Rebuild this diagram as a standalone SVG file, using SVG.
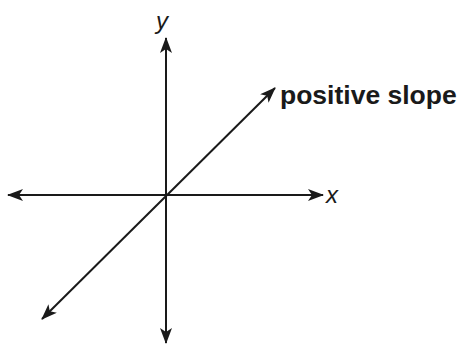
<svg xmlns="http://www.w3.org/2000/svg" width="459" height="349" viewBox="0 0 459 349">
<defs>
<marker id="ah" viewBox="0 0 16 12" refX="15" refY="6" markerWidth="16" markerHeight="12" markerUnits="userSpaceOnUse" orient="auto-start-reverse">
<path d="M0,0 L16,6 L0,12 L4,6 Z" fill="#1a1a1a"/>
</marker>
<style>
.ax{stroke:#1a1a1a;stroke-width:2;fill:none;marker-start:url(#ah);marker-end:url(#ah)}
.lbl{font-family:"Liberation Sans",Arial,sans-serif;fill:#1a1a1a}
</style>
</defs>
<rect width="459" height="349" fill="#fff"/>
<g id="connectors">
<line class="ax" x1="8" y1="195" x2="323" y2="195"/>
<line class="ax" x1="166" y1="343" x2="166" y2="38"/>
<line class="ax" x1="42" y1="319" x2="275" y2="88"/>
</g>
<g id="label-y"><text class="lbl" x="156" y="29" font-size="24" font-style="italic">y</text></g>
<g id="label-x"><text class="lbl" x="326" y="203" font-size="24" font-style="italic">x</text></g>
<g id="label-slope"><text class="lbl" x="280" y="104" font-size="26.5" font-weight="bold">positive slope</text></g>
</svg>
